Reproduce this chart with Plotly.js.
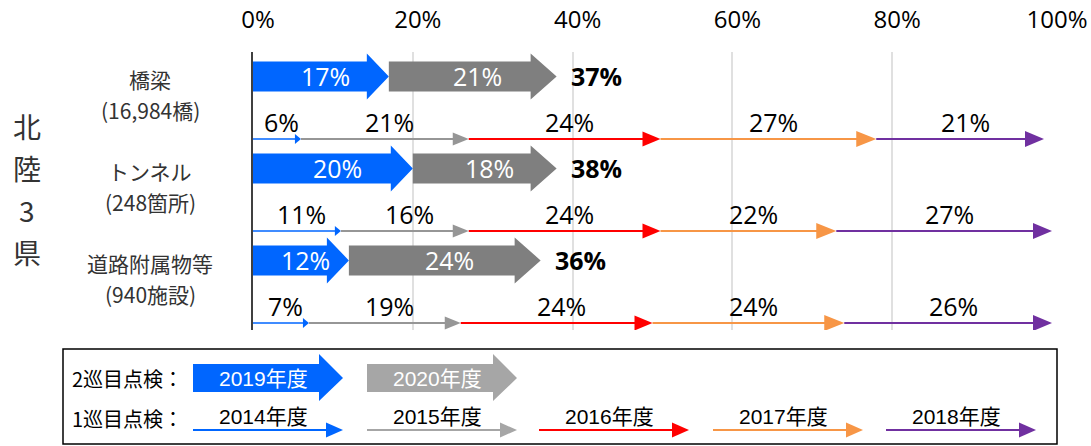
<!DOCTYPE html>
<html><head><meta charset="utf-8">
<script src="https://cdn.plot.ly/plotly-3.0.1.min.js"></script>
<style>html,body{margin:0;padding:0;background:#fff}</style>
</head><body><div id="chart" style="width:1091px;height:446px"></div>
<script>
// ---- data ----
const categories = ['橋梁', 'トンネル', '道路附属物等'];
const counts = ['(16,984橋)', '(248箇所)', '(940施設)'];
const regionLabel = ['北', '陸', '3', '県'];
const secondYears = ['2019年度', '2020年度'];
const second2019 = [17, 20, 12];
const second2020 = [21, 18, 24];
const secondTotal = [37, 38, 36];
const firstYears = ['2014年度', '2015年度', '2016年度', '2017年度', '2018年度'];
const first2014 = [6, 11, 7];
const first2015 = [21, 16, 19];
const first2016 = [24, 24, 24];
const first2017 = [27, 22, 24];
const first2018 = [21, 27, 26];
const tickVals = [0, 20, 40, 60, 80, 100];
const tickText = ['0%', '20%', '40%', '60%', '80%', '100%'];
const legendTitles = ['2巡目点検：', '1巡目点検：'];

// ---- layout constants ----
const W = 1091, H = 446, ML = 253, MR = 39, MT = 52, MB = 116;
const PW = W - ML - MR, PH = H - MT - MB;
const XPP = 100 / PW;      // data units per px (x)
const YUNIT = 92;          // px per row unit
const YPP = 1 / YUNIT;
const yTop = -87 / YUNIT, yBot = yTop + PH / YUNIT;
const THICK_OFF = -0.68;

const pctFont = 'Open Sans, Liberation Sans, sans-serif';
const cjkFont = 'Noto Sans CJK JP, sans-serif';
const legFont = 'Liberation Sans, Noto Sans CJK JP, sans-serif';

const thickColors = ['#0066ff', '#7f7f7f'];
const thinColors = ['#0066ff', '#969696', '#ff0000', '#f79646', '#7030a0'];
const thinHeads = [[6, 5], [16, 6.5], [18, 7.5], [20, 8], [19, 8]];
const thinWidths = [1.5, 2, 2, 2, 2];
const thickHeads = [22, 26];

const shapes = [], annotations = [];

function ann(o) {
  annotations.push(Object.assign({showarrow: false, xanchor: 'center', yanchor: 'middle'}, o));
}
function thickPath(s, e, yc, hl) {
  const bh = 15 * YPP, hh = 23 * YPP, h = hl * XPP;
  return `M${s},${yc - bh} L${e - h},${yc - bh} L${e - h},${yc - hh} L${e},${yc} L${e - h},${yc + hh} L${e - h},${yc + bh} L${s},${yc + bh} Z`;
}
function thinArrow(s, e, yc, color, head, lw) {
  const h = head[0] * XPP, hw = head[1] * YPP;
  shapes.push({type: 'line', xref: 'x', yref: 'y', x0: s, x1: e - h * 0.9, y0: yc, y1: yc,
    line: {color: color, width: lw}, layer: 'above'});
  shapes.push({type: 'path', xref: 'x', yref: 'y',
    path: `M${e - h},${yc - hw} L${e},${yc} L${e - h},${yc + hw} Z`,
    fillcolor: color, line: {width: 0}, layer: 'above'});
}

// helpers for paper coords from pixel positions (legend / side labels)
const fx = px => (px - ML) / PW;
const fy = py => (MT + PH - py) / PH;

const secondSeries = [second2019, second2020];
const firstSeries = [first2014, first2015, first2016, first2017, first2018];

for (let i = 0; i < categories.length; i++) {
  // 2nd round thick arrows
  let start = 0;
  const yc = i + THICK_OFF;
  secondSeries.forEach((ser, k) => {
    const end = start + ser[i];
    shapes.push({type: 'path', xref: 'x', yref: 'y', path: thickPath(start, end, yc, thickHeads[k]),
      fillcolor: thickColors[k], line: {width: 0}, layer: 'above'});
    ann({x: (start + end) / 2, y: yc, xref: 'x', yref: 'y', text: ser[i] + '%',
      xshift: 5, font: {family: pctFont, size: 25, color: '#ffffff'}});
    start = end;
  });
  ann({x: start, y: yc, xref: 'x', yref: 'y', text: '<b>' + secondTotal[i] + '%</b>',
    xanchor: 'left', xshift: 12, font: {family: pctFont, size: 25, color: '#000000'}});

  // 1st round thin arrows
  start = 0;
  firstSeries.forEach((ser, k) => {
    const end = start + ser[i];
    thinArrow(start, end, i, thinColors[k], thinHeads[k], thinWidths[k]);
    ann({x: (start + end) / 2, y: i, xref: 'x', yref: 'y', text: ser[i] + '%',
      xshift: 5, yshift: 17, font: {family: pctFont, size: 25, color: '#000000'}});
    start = end;
  });

  // category labels (two lines)
  ann({x: fx(150), y: i, xref: 'paper', yref: 'y', text: categories[i],
    yshift: 60, borderpad: 0, font: {family: cjkFont, size: 21, color: '#333333'}});
  ann({x: fx(150), y: i, xref: 'paper', yref: 'y', text: counts[i],
    yshift: 29, borderpad: 0, font: {family: cjkFont, size: 21, color: '#333333'}});
}

// region label 北陸3県
const regY = [126, 168, 210, 252];
regionLabel.forEach((c, k) => ann({x: fx(27), y: fy(regY[k]), xref: 'paper', yref: 'paper',
  text: c, borderpad: 0, font: {family: cjkFont, size: 28, color: '#333333'}}));

// legend box
shapes.push({type: 'rect', xref: 'paper', yref: 'paper', x0: fx(63), x1: fx(1057), y0: fy(349), y1: fy(444),
  line: {color: '#000000', width: 1.5}, fillcolor: 'rgba(0,0,0,0)'});
ann({x: fx(70), y: fy(378), xref: 'paper', yref: 'paper', xanchor: 'left', text: legendTitles[0],
  font: {family: cjkFont, size: 20, color: '#000000'}});
ann({x: fx(70), y: fy(418), xref: 'paper', yref: 'paper', xanchor: 'left', text: legendTitles[1],
  font: {family: cjkFont, size: 20, color: '#000000'}});

const legThickColors = ['#0066ff', '#a6a6a6'];
const legX0 = [193, 367, 539, 713, 886];
const legLen = 150;
secondYears.forEach((t, k) => {
  const s = legX0[k], e = s + legLen, hl = 24;
  const p = `M${fx(s)},${fy(364)} L${fx(e - hl)},${fy(364)} L${fx(e - hl)},${fy(354)} L${fx(e)},${fy(378)} L${fx(e - hl)},${fy(401)} L${fx(e - hl)},${fy(392)} L${fx(s)},${fy(392)} Z`;
  shapes.push({type: 'path', xref: 'paper', yref: 'paper', path: p, fillcolor: legThickColors[k], line: {width: 0}});
  ann({x: fx(s + 70), y: fy(378), xref: 'paper', yref: 'paper', text: t,
    font: {family: legFont, size: 21, color: '#ffffff'}});
});
const legThinColors = ['#0066ff', '#a6a6a6', '#ff0000', '#f79646', '#7030a0'];
firstYears.forEach((t, k) => {
  const s = legX0[k], e = s + legLen, hl = 17;
  shapes.push({type: 'line', xref: 'paper', yref: 'paper', x0: fx(s), x1: fx(e - hl), y0: fy(430), y1: fy(430),
    line: {color: legThinColors[k], width: 2}});
  shapes.push({type: 'path', xref: 'paper', yref: 'paper',
    path: `M${fx(e - hl)},${fy(422.5)} L${fx(e)},${fy(430)} L${fx(e - hl)},${fy(437.5)} Z`,
    fillcolor: legThinColors[k], line: {width: 0}});
  ann({x: fx(s + 70), y: fy(416), xref: 'paper', yref: 'paper', text: t,
    font: {family: legFont, size: 21, color: '#000000'}});
});

const layout = {
  width: W, height: H,
  margin: {l: ML, r: MR, t: MT, b: MB, pad: 0},
  paper_bgcolor: '#ffffff', plot_bgcolor: '#ffffff',
  showlegend: false,
  xaxis: {range: [0, 100], side: 'top', tickvals: tickVals, ticktext: tickText,
    showgrid: true, gridcolor: '#e0e0e0', gridwidth: 2, zeroline: false, showline: false,
    ticks: '', ticklabelstandoff: 18, ticklabelshift: 5, fixedrange: true,
    tickfont: {family: pctFont, size: 24, color: '#000000'}},
  yaxis: {range: [yBot, yTop], showgrid: false, zeroline: false, showticklabels: false,
    showline: true, linecolor: '#404040', linewidth: 2, ticks: '', fixedrange: true},
  shapes: shapes,
  annotations: annotations
};

Plotly.newPlot('chart', [{x: [0], y: [0], type: 'scatter', mode: 'markers', marker: {opacity: 0}, hoverinfo: 'skip'}],
  layout, {staticPlot: true});
</script>
</body></html>
